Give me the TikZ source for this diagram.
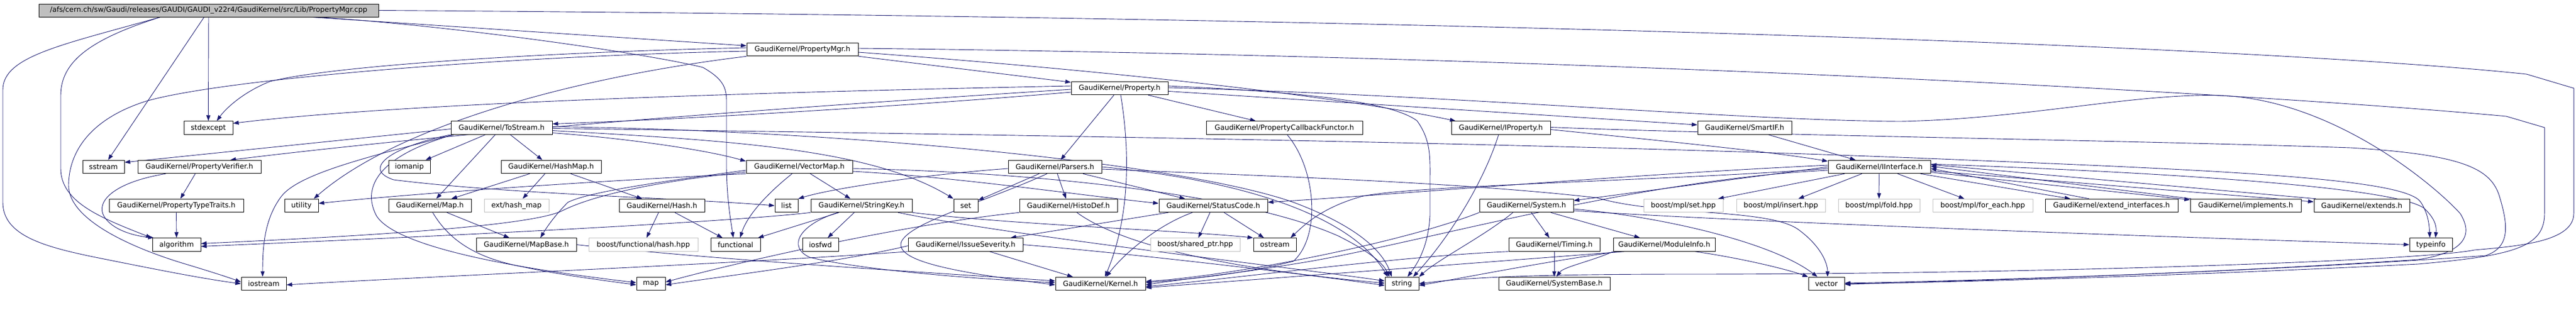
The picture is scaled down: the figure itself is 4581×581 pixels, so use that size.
\documentclass[tikz,border=0pt]{standalone}
\usepackage{fontspec}
\newfontfamily\gfont{DejaVu Sans}
\usetikzlibrary{arrows.meta}
\definecolor{edgec}{HTML}{191970}
\definecolor{gborder}{HTML}{BFBFBF}
\pgfdeclarelayer{bg}
\pgfsetlayers{bg,main}
\tikzset{
  nd/.style={draw=black, line width=1pt, fill=white, inner sep=0pt, minimum height=23.5pt, text=black,
     font=\gfont\fontsize{12.7pt}{15pt}\selectfont},
  gnd/.style={nd, draw=gborder},
  rootnd/.style={nd, fill=gborder, minimum height=23pt},
  e/.style={draw=edgec, line width=0.9pt, -{Triangle[length=10pt,width=7pt]}},
}
\begin{document}
\begin{tikzpicture}[x=1pt,y=-1pt]
\useasboundingbox (0,0) rectangle (4581,581);
% row 0
\node[rootnd,minimum width=604pt] (root) at (371,18.5) {/afs/cern.ch/sw/Gaudi/releases/GAUDI/GAUDI\_v22r4/GaudiKernel/src/Lib/PropertyMgr.cpp};
% row 1
\node[nd,minimum width=198pt] (pmgrh) at (1427,88) {GaudiKernel/PropertyMgr.h};
% row 2
\node[nd,minimum width=172pt] (proph) at (1991,157) {GaudiKernel/Property.h};
% row 3
\node[nd,minimum width=87pt] (stdexcept) at (370.5,227.5) {stdexcept};
\node[nd,minimum width=180pt] (tostream) at (892,227.5) {GaudiKernel/ToStream.h};
\node[nd,minimum width=278pt] (pcbf) at (2284,227.5) {GaudiKernel/PropertyCallbackFunctor.h};
\node[nd,minimum width=176pt] (iprop) at (2669,227.5) {GaudiKernel/IProperty.h};
\node[nd,minimum width=167pt] (smartif) at (3102.5,227.5) {GaudiKernel/SmartIF.h};
% row 4
\node[nd,minimum width=74pt] (sstream) at (184,297) {sstream};
\node[nd,minimum width=219pt] (pverif) at (354.5,297) {GaudiKernel/PropertyVerifier.h};
\node[nd,minimum width=74pt] (iomanip) at (728,297) {iomanip};
\node[nd,minimum width=178pt] (hashmap) at (980,297) {GaudiKernel/HashMap.h};
\node[nd,minimum width=189pt] (vectormap) at (1421.5,297) {GaudiKernel/VectorMap.h};
\node[nd,minimum width=166pt] (parsers) at (1876,297) {GaudiKernel/Parsers.h};
\node[nd,minimum width=182pt] (iinterface) at (3342,297) {GaudiKernel/IInterface.h};
% row 5
\node[nd,minimum width=239pt] (ptt) at (313.5,366) {GaudiKernel/PropertyTypeTraits.h};
\node[nd,minimum width=60pt] (utility) at (536,366) {utility};
\node[nd,minimum width=147pt] (maph) at (764.5,366) {GaudiKernel/Map.h};
\node[gnd,minimum width=115pt] (exthash) at (918.5,366) {ext/hash\_map};
\node[nd,minimum width=152pt] (hashh) at (1177,366) {GaudiKernel/Hash.h};
\node[nd,minimum width=41pt] (list) at (1398.5,366) {list};
\node[nd,minimum width=180pt] (stringkey) at (1532,366) {GaudiKernel/StringKey.h};
\node[nd,minimum width=43pt] (set) at (1717.5,366) {set};
\node[nd,minimum width=174pt] (histodef) at (1900,366) {GaudiKernel/HistoDef.h};
\node[nd,minimum width=193pt] (statuscode) at (2157.5,366) {GaudiKernel/StatusCode.h};
\node[nd,minimum width=167pt] (system) at (2714.5,366) {GaudiKernel/System.h};
\node[gnd,minimum width=141pt] (mplset) at (2993.5,366) {boost/mpl/set.hpp};
\node[gnd,minimum width=158pt] (mplinsert) at (3167,366) {boost/mpl/insert.hpp};
\node[gnd,minimum width=145pt] (mplfold) at (3341.5,366) {boost/mpl/fold.hpp};
\node[gnd,minimum width=178pt] (mplforeach) at (3526,366) {boost/mpl/for\_each.hpp};
\node[nd,minimum width=236pt] (extendif) at (3755,366) {GaudiKernel/extend\_interfaces.h};
\node[nd,minimum width=197pt] (implements) at (3993.5,366) {GaudiKernel/implements.h};
\node[nd,minimum width=170pt] (extends) at (4200,366) {GaudiKernel/extends.h};
% row 6
\node[nd,minimum width=86pt] (algorithm) at (314,435.5) {algorithm};
\node[nd,minimum width=178pt] (mapbase) at (936,435.5) {GaudiKernel/MapBase.h};
\node[gnd,minimum width=194pt] (boosthash) at (1144,435.5) {boost/functional/hash.hpp};
\node[nd,minimum width=88pt] (functional) at (1308,435.5) {functional};
\node[nd,minimum width=64pt] (iosfwd) at (1459,435.5) {iosfwd};
\node[nd,minimum width=204pt] (issuesev) at (1717,435.5) {GaudiKernel/IssueSeverity.h};
\node[gnd,minimum width=159pt] (sharedptr) at (2125.5,435.5) {boost/shared\_ptr.hpp};
\node[nd,minimum width=76pt] (ostream) at (2267,435.5) {ostream};
\node[nd,minimum width=162pt] (timing) at (2764,435.5) {GaudiKernel/Timing.h};
\node[nd,minimum width=181pt] (moduleinfo) at (2959.5,435.5) {GaudiKernel/ModuleInfo.h};
\node[nd,minimum width=76pt] (typeinfo) at (4323,435.5) {typeinfo};
% row 7
\node[nd,minimum width=80pt] (iostream) at (469,505) {iostream};
\node[nd,minimum width=51pt] (map) at (1157.5,505) {map};
\node[nd,minimum width=160pt] (kernel) at (1957,505) {GaudiKernel/Kernel.h};
\node[nd,minimum width=60pt] (string) at (2493,505) {string};
\node[nd,minimum width=198pt] (systembase) at (2764,505) {GaudiKernel/SystemBase.h};
\node[nd,minimum width=64pt] (vector) at (3248,505) {vector};

\begin{pgfonlayer}{bg}
% root
\draw[e] (root) -- (pmgrh);
\draw[e] (root) -- (stdexcept);
\draw[e] (root) -- (sstream);
\draw[e] ([xshift=-86pt]root.south) .. controls (160,70) and (108,110) .. (108,170) -- (108,300) .. controls (108,360) and (180,388) .. ([xshift=-1pt]algorithm.north west);
\draw[e] ([xshift=-86pt]root.south) .. controls (110,80) and (5,100) .. (5,160) -- (5,360) .. controls (5,420) and (80,440) .. (180,460) .. controls (280,480) and (360,496) .. (iostream.west);
\draw[e] ([xshift=192pt]root.south) .. controls (800,45) and (1150,95) .. (1250,120) .. controls (1285,140) and (1292,155) .. (1292,180) -- (1292,300) .. controls (1293,360) and (1300,395) .. ([xshift=-4pt]functional.north);
\draw[e] (root.east) .. controls (2500,30) and (4000,80) .. (4493,132) -- (4577,157) -- (4577,380) .. controls (4577,430) and (4480,438) .. (4400,445) .. controls (4300,465) and (3600,488) .. (3000,488) .. controls (2700,488) and (2600,495) .. (string.east);
% PropertyMgr.h
\draw[e] (pmgrh) -- (proph);
\draw[e] ([yshift=-5pt]pmgrh.east) .. controls (1900,120) and (2350,165) .. ([xshift=8pt]iprop.north west);
\draw[e] ([yshift=2pt]pmgrh.east) .. controls (2800,100) and (4000,165) .. (4457,207) -- (4525,227) -- (4525,380) .. controls (4525,440) and (4470,455) .. (4300,470) .. controls (3900,490) and (3500,502) .. (vector.east);
\draw[e] ([yshift=3pt]pmgrh.west) .. controls (1000,92) and (600,115) .. (480,145) .. controls (430,165) and (400,195) .. ([xshift=15pt]stdexcept.north);
\draw[e] ([yshift=-3pt]pmgrh.west) .. controls (900,100) and (400,140) .. (260,180) .. controls (150,215) and (122,280) .. (122,330) .. controls (122,390) and (230,440) .. (330,470) .. controls (380,485) and (410,495) .. ([yshift=3pt]iostream.west);
\draw[e] (pmgrh.south west) .. controls (1000,140) and (700,230) .. ([xshift=22pt]utility.north);
% Property.h
\draw[e] ([yshift=4pt]proph.west) .. controls (1300,165) and (700,185) .. ([yshift=8pt]stdexcept.east);
\draw[e] ([yshift=-2pt]proph.west) .. controls (1500,185) and (900,225) .. ([xshift=55pt]pverif.north);
\draw[e] ([yshift=-7pt]proph.west) .. controls (1600,190) and (1200,213) .. ([yshift=7pt]tostream.east);
\draw[e] (proph) -- (parsers);
\draw[e] ([xshift=2pt]proph.south) .. controls (2008,260) and (2012,380) .. ([xshift=8pt]kernel.north);
\draw[e] (proph) -- (pcbf);
\draw[e] ([yshift=4pt]proph.east) .. controls (2350,165) and (2480,185) .. (2520,215) .. controls (2545,250) and (2543,280) .. (2543,320) -- (2543,383) .. controls (2540,440) and (2520,470) .. ([xshift=10pt]string.north);
\draw[e] (proph) -- (smartif);
\draw[e] ([yshift=1pt]proph.east) .. controls (2600,170) and (3100,215) .. (3380,216) .. controls (3600,212) and (3800,165) .. (3950,170) .. controls (4150,178) and (4330,330) .. (4375,380) .. controls (4400,420) and (4380,450) .. (4300,462) .. controls (3900,488) and (3500,500) .. ([yshift=-1pt]vector.east);
% ToStream.h
\draw[e] ([yshift=-2pt]tostream.west) -- ([yshift=8pt]sstream.east);
\draw[e] ([xshift=-85pt]tostream.south) .. controls (650,280) and (530,310) .. (500,350) .. controls (470,390) and (467,440) .. ([xshift=-2pt]iostream.north);
\draw[e] (tostream.south west) .. controls (700,260) and (640,300) .. (700,320) .. controls (900,345) and (1200,352) .. (list.west);
\draw[e] ([xshift=5pt]tostream.south west) .. controls (680,275) and (640,330) .. (670,385) .. controls (700,430) and (850,470) .. ([yshift=2pt]map.west);
\draw[e] (tostream) -- (iomanip);
\draw[e] (tostream) -- (maph);
\draw[e] (tostream) -- (hashmap);
\draw[e] ([yshift=-9pt]tostream.east) .. controls (1100,245) and (1250,265) .. ([yshift=10pt]vectormap.west);
\draw[e] ([yshift=-5pt]tostream.east) .. controls (1300,250) and (1550,265) .. (set.north west);
\draw[e] ([yshift=2pt]tostream.east) .. controls (1500,232) and (2100,290) .. (2300,360) .. controls (2420,405) and (2460,450) .. ([xshift=-18pt]string.north);
\draw[e] ([yshift=-1pt]tostream.east) .. controls (1800,240) and (2800,255) .. (3500,285) .. controls (4000,305) and (4280,320) .. (4305,360) .. controls (4318,380) and (4320,400) .. ([xshift=-2pt]typeinfo.north);
% HashMap.h
\draw[e] (hashmap) -- (maph);
\draw[e] (hashmap) -- (exthash);
\draw[e] (hashmap) -- (hashh);
% Map.h
\draw[e] (maph) -- (mapbase);
\draw[e] ([xshift=5pt]maph.south) .. controls (800,430) and (850,460) .. (930,475) .. controls (1000,490) and (1080,500) .. ([yshift=-2pt]map.west);
% Hash.h
\draw[e] (hashh) -- (boosthash);
\draw[e] (hashh) -- (functional);
% VectorMap.h
\draw[e] ([xshift=-13pt]vectormap.south) .. controls (1370,340) and (1330,380) .. ([xshift=8pt]functional.north);
\draw[e] (vectormap) -- (stringkey);
\draw[e] ([yshift=-6pt]vectormap.west) .. controls (1200,320) and (1050,340) .. (1010,360) .. controls (990,380) and (975,400) .. ([xshift=25pt]mapbase.north);
\draw[e] ([yshift=-9pt]vectormap.west) .. controls (1150,325) and (1050,350) .. (1000,375) .. controls (950,400) and (700,418) .. ([yshift=2pt]algorithm.east);
\draw[e] (vectormap.south west) .. controls (1000,325) and (700,348) .. ([yshift=4pt]utility.east);
\draw[e] ([yshift=-3pt]vectormap.east) .. controls (1800,305) and (2200,340) .. (2380,420) .. controls (2440,450) and (2460,470) .. ([xshift=-22pt]string.north);
\draw[e] ([yshift=-8pt]vectormap.east) .. controls (1700,315) and (1900,345) .. ([yshift=4pt]statuscode.west);
% Parsers.h
\draw[e] (parsers) -- (set);
\draw[e] (parsers) -- (histodef);
\draw[e] (parsers) -- (statuscode);
\draw[e] ([yshift=-3pt]parsers.west) .. controls (1650,310) and (1480,335) .. (list.north east);
\draw[e] ([xshift=-14pt]parsers.south) .. controls (1750,360) and (1620,395) .. (1603,430) .. controls (1590,465) and (1700,485) .. ([yshift=-2pt]kernel.west);
\draw[e] (parsers.east) .. controls (2200,320) and (2400,380) .. ([xshift=-25pt]string.north);
\draw[e] ([yshift=-4pt]parsers.east) .. controls (2300,315) and (2600,325) .. (2840,352) .. controls (2950,385) and (3150,370) .. (3200,410) .. controls (3240,440) and (3250,470) .. ([xshift=2pt]vector.north);
% StringKey.h
\draw[e] (stringkey) -- (iosfwd);
\draw[e] ([xshift=-40pt]stringkey.south) -- ([xshift=40pt]functional.north);
\draw[e] (stringkey.south west) .. controls (1300,395) and (800,420) .. ([yshift=-3pt]algorithm.east);
\draw[e] ([xshift=-42pt]stringkey.south) .. controls (1420,400) and (1400,440) .. (1440,458) .. controls (1550,485) and (1800,500) .. ([yshift=2pt]kernel.west);
\draw[e] ([xshift=65pt]stringkey.south) .. controls (1800,420) and (2250,470) .. ([yshift=5pt]string.west);
\draw[e] (stringkey.south east) .. controls (1800,400) and (2100,410) .. (ostream.north west);
% HistoDef.h
\draw[e] ([xshift=15pt]histodef.south) .. controls (2000,440) and (2200,480) .. ([yshift=1pt]string.west);
\draw[e] (histodef.south west) .. controls (1600,400) and (1300,470) .. ([yshift=3pt]map.east);
% StatusCode.h
\draw[e] (statuscode) -- (sharedptr);
\draw[e] (statuscode) -- (ostream);
\draw[e] ([xshift=-37pt]statuscode.south) .. controls (2060,400) and (2000,450) .. ([xshift=10pt]kernel.north);
\draw[e] ([xshift=-80pt]statuscode.south) -- ([xshift=80pt]issuesev.north);
% IssueSeverity.h
\draw[e] ([xshift=43pt]issuesev.south) -- ([xshift=-49pt]kernel.north);
\draw[e] ([yshift=-2pt]issuesev.west) .. controls (1500,465) and (1300,490) .. ([yshift=-2pt]map.east);
\draw[e] (issuesev.south west) .. controls (1300,470) and (800,490) .. ([yshift=-2pt]iostream.east);
\draw[e] (issuesev.east) .. controls (2000,450) and (2300,485) .. ([yshift=-3pt]string.west);
% MapBase.h
\draw[e] (mapbase.east) .. controls (1300,465) and (1700,488) .. ([yshift=5pt]kernel.west);
% PropertyVerifier / TypeTraits
\draw[e] (ptt) -- (algorithm);
\draw[e] (pverif) -- (ptt);
\draw[e] ([xshift=-60pt]pverif.south) .. controls (200,325) and (170,360) .. (185,385) .. controls (200,410) and (240,420) .. ([xshift=3pt]algorithm.north west);
% PropertyCallbackFunctor.h
\draw[e] ([xshift=5pt]pcbf.south) .. controls (2340,300) and (2350,420) .. (2300,465) .. controls (2200,490) and (2100,498) .. ([yshift=2pt]kernel.east);
% IProperty.h
\draw[e] ([yshift=-3pt]iprop.east) .. controls (2950,250) and (3150,270) .. ([yshift=10pt]iinterface.west);
\draw[e] ([xshift=-4pt]iprop.south) .. controls (2640,320) and (2580,420) .. ([xshift=20pt]string.north);
\draw[e] ([yshift=1pt]iprop.east) .. controls (3100,240) and (3800,250) .. (4180,263) .. controls (4380,275) and (4430,300) .. (4445,350) .. controls (4460,400) and (4465,440) .. (4420,455) .. controls (4000,485) and (3500,500) .. ([yshift=1pt]vector.east);
% SmartIF.h
\draw[e] (smartif) -- (iinterface);
% IInterface.h
\draw[e] (iinterface) -- (extendif);
\draw[e] (iinterface) -- (implements);
\draw[e] (iinterface) -- (extends);
\draw[e] ([xshift=-40pt]extendif.north) -- ([yshift=-3pt]iinterface.east);
\draw[e] ([xshift=2pt]implements.north west) -- ([yshift=1pt]iinterface.east);
\draw[e] ([xshift=4pt]extends.north west) -- ([yshift=4pt]iinterface.east);
\draw[e] (iinterface) -- (mplset);
\draw[e] (iinterface) -- (mplinsert);
\draw[e] (iinterface) -- (mplfold);
\draw[e] (iinterface) -- (mplforeach);
\draw[e] ([yshift=3pt]iinterface.west) .. controls (2900,310) and (2500,345) .. ([yshift=6pt]statuscode.east);
\draw[e] (iinterface.west) -- ([yshift=9pt]system.east);
\draw[e] ([yshift=-3pt]iinterface.west) .. controls (3000,320) and (2500,330) .. (2420,350) .. controls (2350,370) and (2320,400) .. ([xshift=28pt]ostream.north);
\draw[e] ([yshift=-6pt]iinterface.west) .. controls (2900,320) and (2500,440) .. (2300,470) .. controls (2200,487) and (2100,497) .. ([yshift=-2pt]kernel.east);
\draw[e] ([yshift=5pt]iinterface.east) .. controls (3800,305) and (4250,330) .. (4310,370) .. controls (4332,390) and (4333,405) .. ([xshift=8pt]typeinfo.north);
% System.h
\draw[e] (system) -- (timing);
\draw[e] (system) -- (moduleinfo);
\draw[e] ([yshift=-6pt]system.east) .. controls (2950,385) and (3150,430) .. ([xshift=-16pt]vector.north);
\draw[e] ([yshift=-9pt]system.east) .. controls (3100,395) and (3800,420) .. (typeinfo.west);
\draw[e] ([xshift=-24pt]system.south) .. controls (2640,420) and (2560,460) .. (string.north east);
\draw[e] (system.south west) .. controls (2500,430) and (2200,490) .. ([yshift=4pt]kernel.east);
% Timing.h
\draw[e] (timing) -- (systembase);
\draw[e] (timing.south west) .. controls (2500,455) and (2200,495) .. ([yshift=-5pt]kernel.east);
% ModuleInfo.h
\draw[e] (moduleinfo.south west) .. controls (2830,465) and (2780,475) .. ([xshift=4pt]systembase.north);
\draw[e] ([xshift=55pt]moduleinfo.south) .. controls (3100,460) and (3180,480) .. (vector.north west);
\draw[e] ([xshift=10pt]moduleinfo.south west) .. controls (2750,465) and (2600,495) .. ([yshift=-3pt]string.east);
\draw[e] ([xshift=20pt]moduleinfo.south west) .. controls (2600,470) and (2200,500) .. ([yshift=-7pt]kernel.east);
\end{pgfonlayer}
\end{tikzpicture}
\end{document}
